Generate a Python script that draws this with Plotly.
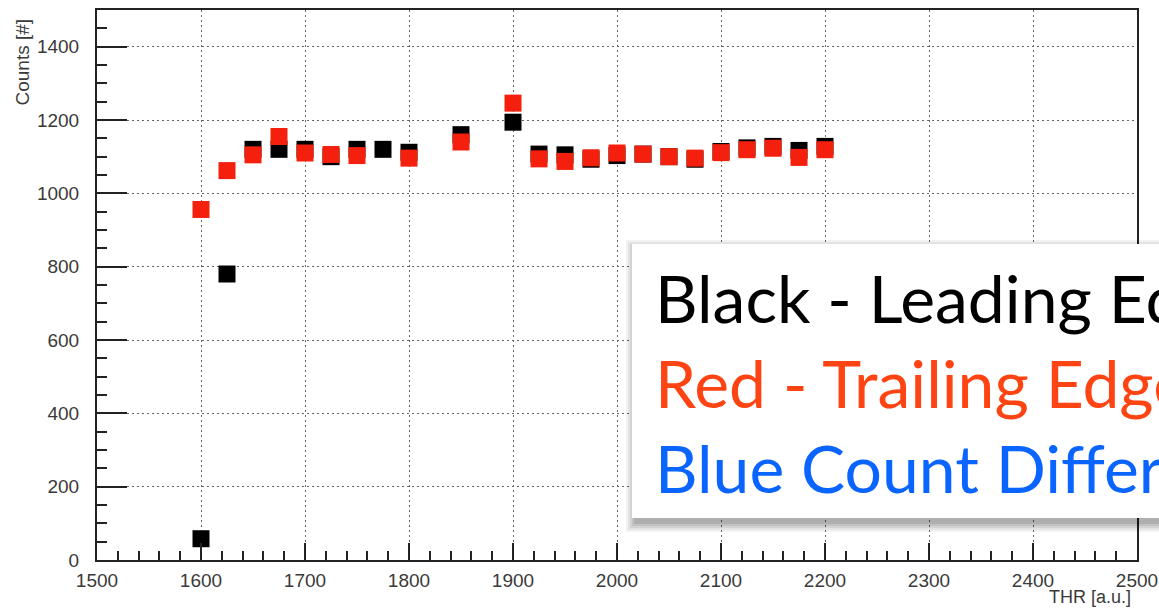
import plotly.graph_objects as go

# ---- data ----
thr_black = [1600, 1625, 1650, 1675, 1700, 1725, 1750, 1775, 1800, 1850, 1900,
             1925, 1950, 1975, 2000, 2025, 2050, 2075, 2100, 2125, 2150, 2175, 2200]
counts_black = [58, 780, 1120, 1120, 1120, 1100, 1120, 1120, 1112, 1160, 1194,
                1107, 1105, 1093, 1103, 1107, 1100, 1093, 1114, 1124, 1128, 1117, 1128]

thr_red = [1600, 1625, 1650, 1675, 1700, 1725, 1750, 1800, 1850, 1900,
           1925, 1950, 1975, 2000, 2025, 2050, 2075, 2100, 2125, 2150, 2175, 2200]
counts_red = [956, 1062, 1105, 1155, 1110, 1106, 1103, 1096, 1140, 1246,
              1094, 1087, 1097, 1110, 1107, 1100, 1096, 1111, 1119, 1123, 1098, 1119]

callout_lines = ["Black - Leading Edge", "Red - Trailing Edge", "Blue Count Difference"]
callout_colors = ["#000000", "#ff4414", "#0a64ff"]

x_title = "THR [a.u.]"
y_title = "Counts [#]"

W, H = 1159, 610
ML, MR, MT, MB = 97, 22, 10, 50
PW, PH = W - ML - MR, H - MT - MB


def px(xp):
    return (xp - ML) / PW


def py(yp):
    return (H - MB - yp) / PH


fig = go.Figure()
fig.add_trace(go.Scatter(x=thr_black, y=counts_black, mode="markers",
                         marker=dict(symbol="square", size=17, color="#000000",
                                     line=dict(width=0)),
                         name="Leading Edge", cliponaxis=False))
fig.add_trace(go.Scatter(x=thr_red, y=counts_red, mode="markers",
                         marker=dict(symbol="square", size=17, color="#f41f0c",
                                     line=dict(width=0)),
                         name="Trailing Edge", cliponaxis=False))

tickfont = dict(family="Liberation Sans, Arial, sans-serif", size=19, color="#3a3a3a")

common = dict(showgrid=True, gridcolor="#666", griddash="2px,3px", gridwidth=1,
              showline=True, linecolor="#222", linewidth=2, mirror=True,
              zeroline=False, tickfont=tickfont, automargin=False,
              ticklabeloverflow="allow",
              tickcolor="#222", tickwidth=2, ticks="inside")

fig.update_xaxes(range=[1500, 2500], dtick=100, tick0=1500, ticklen=17,
                 minor=dict(dtick=20, ticks="inside", ticklen=9, tickwidth=2,
                            tickcolor="#222", showgrid=False),
                 ticklabelstandoff=2, **common)
fig.update_yaxes(range=[0, 1500], dtick=200, tick0=0, ticklen=30,
                 minor=dict(dtick=50, ticks="inside", ticklen=10, tickwidth=2,
                            tickcolor="#222", showgrid=False),
                 ticklabelstandoff=12, **common)

shapes = []
# shadow of callout box
for i, op in enumerate([0.05, 0.06, 0.07, 0.08, 0.10]):
    g = 10 - 2 * i
    shapes.append(dict(type="rect", xref="paper", yref="paper",
                       x0=px(632 - g + 4), x1=px(1200), y0=py(518 + g + 4), y1=py(244 - g + 6),
                       fillcolor=f"rgba(0,0,0,{op})", line=dict(width=0), layer="above"))
shapes.append(dict(type="rect", xref="paper", yref="paper",
                   x0=px(632), x1=px(1200), y0=py(518), y1=py(244),
                   fillcolor="white", line=dict(width=0), layer="above"))

annotations = []
baselines = [322, 407, 492]
fs = 66
for txt, col, b in zip(callout_lines, callout_colors, baselines):
    annotations.append(dict(text=txt, xref="paper", yref="paper", x=px(653), y=py(b - 0.37 * fs),
                            xanchor="left", yanchor="middle", showarrow=False,
                            font=dict(family="Lato, Noto Sans, sans-serif", size=fs, color=col)))

annotations.append(dict(text=y_title, xref="paper", yref="paper", x=px(22), y=py(17),
                        xanchor="center", yanchor="top", textangle=-90, showarrow=False,
                        font=dict(family="Liberation Sans, Arial, sans-serif", size=19, color="#3a3a3a")))
annotations.append(dict(text=x_title, xref="paper", yref="paper", x=px(1133), y=py(597),
                        xanchor="right", yanchor="middle", showarrow=False,
                        font=dict(family="Liberation Sans, Arial, sans-serif", size=18, color="#3a3a3a")))

fig.update_layout(width=W, height=H, margin=dict(l=ML, r=MR, t=MT, b=MB, autoexpand=False),
                  paper_bgcolor="white", plot_bgcolor="white", showlegend=False,
                  shapes=shapes, annotations=annotations)

fig.write_html("out.html", config={"displayModeBar": False},
               post_script="document.body.style.margin='0';document.body.style.overflow='hidden';")
